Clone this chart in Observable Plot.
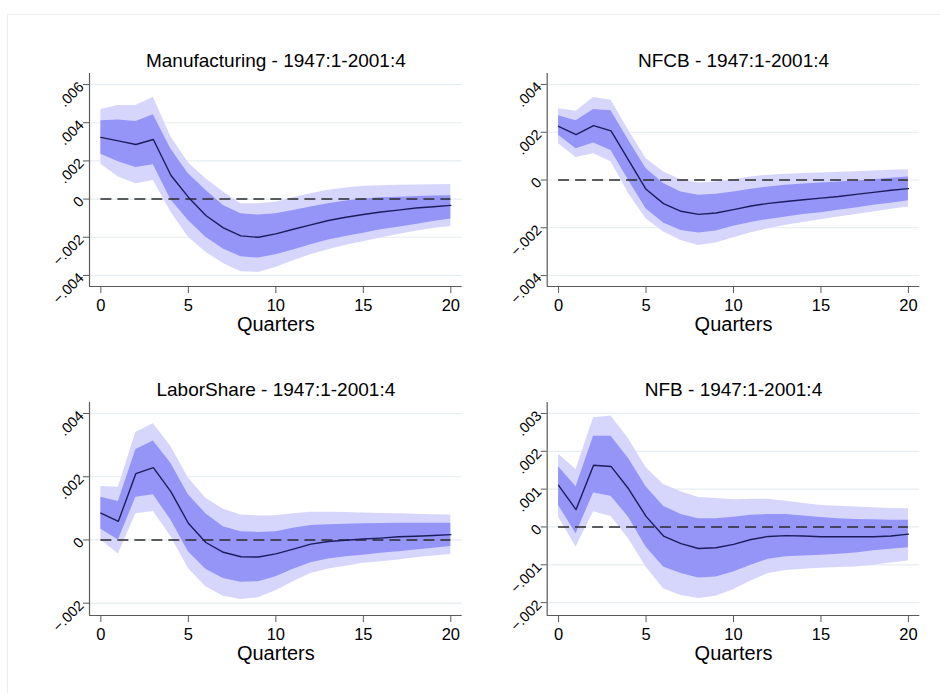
<!DOCTYPE html>
<html>
<head>
<meta charset="utf-8">
<script src="https://cdn.jsdelivr.net/npm/d3@7"></script>
<script src="https://cdn.jsdelivr.net/npm/@observablehq/plot@0.6"></script>
<style>
  html, body { margin: 0; padding: 0; background: #fff; }
  #fig { position: relative; width: 940px; height: 693px; overflow: hidden; background: #fff;
         font-family: "Liberation Sans", Arial, Helvetica, sans-serif; }
  #outline { position: absolute; left: 7px; top: 14px; width: 960px; height: 720px;
             border: 1px solid #eceff2; box-sizing: border-box; }
  .panel { position: absolute; }
</style>
</head>
<body>
<div id="fig"><div id="outline"></div></div>
<script>
// Impulse responses over 0..20 quarters, with 68% (inner) and 95% (outer) bands.
const quarters = d3.range(0, 21);
const xTicks = [0, 5, 10, 15, 20];

// Manufacturing
const mfgIrf  = [0.00323,0.00305,0.00286,0.00312,0.00125,0.0001,-0.00086,-0.00151,-0.00193,-0.002,-0.00182,-0.00158,-0.00135,-0.00112,-0.00095,-0.00081,-0.00068,-0.00058,-0.00047,-0.0004,-0.00033];
const mfgHi68 = [0.0041,0.00414,0.00407,0.00442,0.00262,0.00133,0.00046,-0.00033,-0.00077,-0.00084,-0.00077,-0.0006,-0.00042,-0.00025,-0.0001,0,0.00007,0.0001,0.00014,0.00016,0.00018];
const mfgLo68 = [0.00235,0.00195,0.00165,0.0018,-0.00004,-0.00112,-0.002,-0.00261,-0.00302,-0.00309,-0.00291,-0.00267,-0.00239,-0.00214,-0.00196,-0.00179,-0.00161,-0.00147,-0.00133,-0.00118,-0.00104];
const mfgHi95 = [0.0047,0.0049,0.0049,0.00533,0.00326,0.0019,0.00107,0.00037,-0.00025,-0.00025,-0.00016,0.00007,0.00028,0.00046,0.00058,0.00067,0.0007,0.00072,0.00074,0.00075,0.00077];
const mfgLo95 = [0.00182,0.00116,0.00081,0.00098,-0.00068,-0.002,-0.00279,-0.00337,-0.00381,-0.00384,-0.00358,-0.00323,-0.00291,-0.00265,-0.00242,-0.00223,-0.00204,-0.00186,-0.00168,-0.00154,-0.00144];
const mfgTicks = [-0.004, -0.002, 0, 0.002, 0.004, 0.006];

// Nonfinancial corporate business
const nfcbIrf  = [0.00225,0.0019,0.00228,0.00206,0.00083,-0.00039,-0.00099,-0.00131,-0.00144,-0.00138,-0.00124,-0.00109,-0.00098,-0.0009,-0.00083,-0.00076,-0.00069,-0.0006,-0.00052,-0.00043,-0.00036];
const nfcbHi68 = [0.00269,0.00248,0.00295,0.0029,0.00166,0.00048,-0.00015,-0.0005,-0.00064,-0.0006,-0.0005,-0.00039,-0.00029,-0.00022,-0.00017,-0.00013,-0.00008,-0.00004,0.00001,0.00007,0.00013];
const nfcbLo68 = [0.00187,0.00131,0.00155,0.00124,-0.00001,-0.0012,-0.0018,-0.00211,-0.00222,-0.00214,-0.00194,-0.00178,-0.00165,-0.00155,-0.00145,-0.00137,-0.00127,-0.00117,-0.00106,-0.00097,-0.00087];
const nfcbHi95 = [0.00298,0.00288,0.00345,0.00334,0.00208,0.0009,0.00034,0.00001,-0.00013,-0.00008,0.00001,0.00013,0.0002,0.00024,0.00027,0.00029,0.00032,0.00035,0.00038,0.00041,0.00043];
const nfcbLo95 = [0.00152,0.00094,0.0011,0.00076,-0.00057,-0.00162,-0.00218,-0.00253,-0.00274,-0.00264,-0.00242,-0.00221,-0.00204,-0.0019,-0.00178,-0.00166,-0.00155,-0.00144,-0.00134,-0.00123,-0.00113];
const nfcbTicks = [-0.004, -0.002, 0, 0.002, 0.004];

// Labor share
const lsIrf  = [0.00085,0.00059,0.0021,0.00229,0.00153,0.00053,-0.00008,-0.00039,-0.00053,-0.00054,-0.00044,-0.00029,-0.00013,-0.00005,-0.00001,0.00003,0.00006,0.0001,0.00012,0.00014,0.00017];
const lsHi68 = [0.00135,0.00122,0.00286,0.00313,0.00243,0.00143,0.00083,0.00042,0.00026,0.00024,0.00026,0.00037,0.00046,0.00048,0.0005,0.00051,0.00052,0.00053,0.00053,0.00053,0.00053];
const lsLo68 = [0.00034,0,0.00135,0.00143,0.00063,-0.00037,-0.00093,-0.00122,-0.00134,-0.00132,-0.00116,-0.00093,-0.00072,-0.0006,-0.00053,-0.00048,-0.00042,-0.00037,-0.00032,-0.00026,-0.00021];
const lsHi95 = [0.00169,0.00167,0.00341,0.00368,0.00296,0.00196,0.00132,0.00097,0.00079,0.00076,0.00077,0.00083,0.00088,0.00088,0.00087,0.00085,0.00084,0.00083,0.00081,0.0008,0.00079];
const lsLo95 = [0,-0.00044,0.00083,0.0009,0.00011,-0.0009,-0.00148,-0.00178,-0.00188,-0.00183,-0.00161,-0.00132,-0.00106,-0.00092,-0.00083,-0.00074,-0.00069,-0.00063,-0.00056,-0.00051,-0.00046];
const lsTicks = [-0.002, 0, 0.002, 0.004];

// Nonfarm business
const nfbIrf  = [0.0011,0.00046,0.00163,0.0016,0.00101,0.00028,-0.00024,-0.00044,-0.00057,-0.00055,-0.00046,-0.00033,-0.00025,-0.00023,-0.00024,-0.00026,-0.00026,-0.00026,-0.00026,-0.00024,-0.00019];
const nfbHi68 = [0.00159,0.00106,0.0024,0.0024,0.00181,0.00106,0.00055,0.00033,0.00022,0.00022,0.00026,0.00031,0.00033,0.00033,0.00029,0.00025,0.00022,0.0002,0.00019,0.00018,0.00018];
const nfbLo68 = [0.00057,-0.00018,0.0009,0.00081,0.00026,-0.00053,-0.00106,-0.00123,-0.00135,-0.00132,-0.00119,-0.00101,-0.00085,-0.00079,-0.00077,-0.00075,-0.00072,-0.00069,-0.00063,-0.00059,-0.00055];
const nfbHi95 = [0.00192,0.00152,0.00289,0.00293,0.00233,0.00157,0.00112,0.00093,0.00078,0.00075,0.00072,0.00073,0.00073,0.00068,0.00062,0.00057,0.00055,0.00053,0.00051,0.00049,0.00048];
const nfbLo95 = [0.00026,-0.00053,0.0004,0.00028,-0.00031,-0.00106,-0.00163,-0.00181,-0.00189,-0.00183,-0.00166,-0.00143,-0.00123,-0.00115,-0.00112,-0.00109,-0.00107,-0.00106,-0.00101,-0.00095,-0.0009];
const nfbTicks = [-0.002, -0.001, 0, 0.001, 0.002, 0.003];

const titles = [
  "Manufacturing - 1947:1-2001:4",
  "NFCB - 1947:1-2001:4",
  "LaborShare - 1947:1-2001:4",
  "NFB - 1947:1-2001:4"
];

const colors = {
  outer: "#d6d6fc",
  inner: "#9595f8",
  line: "#1c1c5c",
  grid: "#e6eef1",
  axis: "#5a5a5a",
  zero: "#2a2a2a"
};

// Stata-style tick labels: ".004", "-.002", "0"
const fmt = d => d === 0 ? "0" : d3.format(".3f")(d).replace("0.", ".");

const panels = [
  {title: titles[0], irf: mfgIrf,  lo68: mfgLo68,  hi68: mfgHi68,  lo95: mfgLo95,  hi95: mfgHi95,  ticks: mfgTicks,
   yDomain: [-0.00458, 0.00658], left: 0,   top: 40,  ml: 89,   mr: 8.3,  mt: 33, mb: 54},
  {title: titles[1], irf: nfcbIrf, lo68: nfcbLo68, hi68: nfcbHi68, lo95: nfcbLo95, hi95: nfcbHi95, ticks: nfcbTicks,
   yDomain: [-0.00446, 0.00446], left: 470, top: 40,  ml: 76.7, mr: 20.7, mt: 33, mb: 54},
  {title: titles[2], irf: lsIrf,   lo68: lsLo68,   hi68: lsHi68,   lo95: lsLo95,   hi95: lsHi95,   ticks: lsTicks,
   yDomain: [-0.00239, 0.00435], left: 0,   top: 370, ml: 89,   mr: 8.3,  mt: 32, mb: 55},
  {title: titles[3], irf: nfbIrf,  lo68: nfbLo68,  hi68: nfbHi68,  lo95: nfbLo95,  hi95: nfbHi95,  ticks: nfbTicks,
   yDomain: [-0.00234, 0.00329], left: 470, top: 370, ml: 76.7, mr: 20.7, mt: 32, mb: 55}
];

const xDomain = [-0.65, 20.65];
const fig = document.getElementById("fig");

for (const p of panels) {
  const rows = quarters.map((q, i) => ({
    q, irf: p.irf[i], lo68: p.lo68[i], hi68: p.hi68[i], lo95: p.lo95[i], hi95: p.hi95[i]
  }));

  const chart = Plot.plot({
    width: 470,
    height: 300,
    marginLeft: p.ml,
    marginRight: p.mr,
    marginTop: p.mt,
    marginBottom: p.mb,
    style: {fontFamily: '"Liberation Sans", Arial, Helvetica, sans-serif', background: "transparent", overflow: "visible"},
    x: {domain: xDomain},
    y: {domain: p.yDomain},
    marks: [
      Plot.ruleY(p.ticks, {stroke: colors.grid, strokeWidth: 1.2}),
      Plot.areaY(rows, {x: "q", y1: "lo95", y2: "hi95", fill: colors.outer}),
      Plot.areaY(rows, {x: "q", y1: "lo68", y2: "hi68", fill: colors.inner}),
      Plot.ruleY([0], {x1: quarters[0], x2: quarters[quarters.length - 1], stroke: colors.zero,
                       strokeWidth: 1.5, strokeDasharray: "11,6"}),
      Plot.lineY(rows, {x: "q", y: "irf", stroke: colors.line, strokeWidth: 1.4}),
      Plot.ruleX([xDomain[0]], {stroke: colors.axis, strokeWidth: 1.2}),
      Plot.ruleY([p.yDomain[0]], {stroke: colors.axis, strokeWidth: 1.2}),
      Plot.axisY(p.ticks, {tickFormat: fmt, tickRotate: -45, tickSize: 6, tickPadding: 2,
                           fontSize: 14.5, stroke: colors.axis, fill: "#000", label: null}),
      Plot.axisX(xTicks, {tickSize: 7, tickPadding: 6, fontSize: 16.5, stroke: colors.axis,
                          fill: "#000", label: null}),
      Plot.text([p.title], {frameAnchor: "top", lineAnchor: "middle", dy: -13, fontSize: 19, fill: "#000"}),
      Plot.text(["Quarters"], {frameAnchor: "bottom", lineAnchor: "middle", dy: 38, fontSize: 20, fill: "#000"})
    ]
  });

  const holder = document.createElement("div");
  holder.className = "panel";
  holder.style.left = p.left + "px";
  holder.style.top = p.top + "px";
  holder.appendChild(chart);
  fig.appendChild(holder);
}
</script>
</body>
</html>
